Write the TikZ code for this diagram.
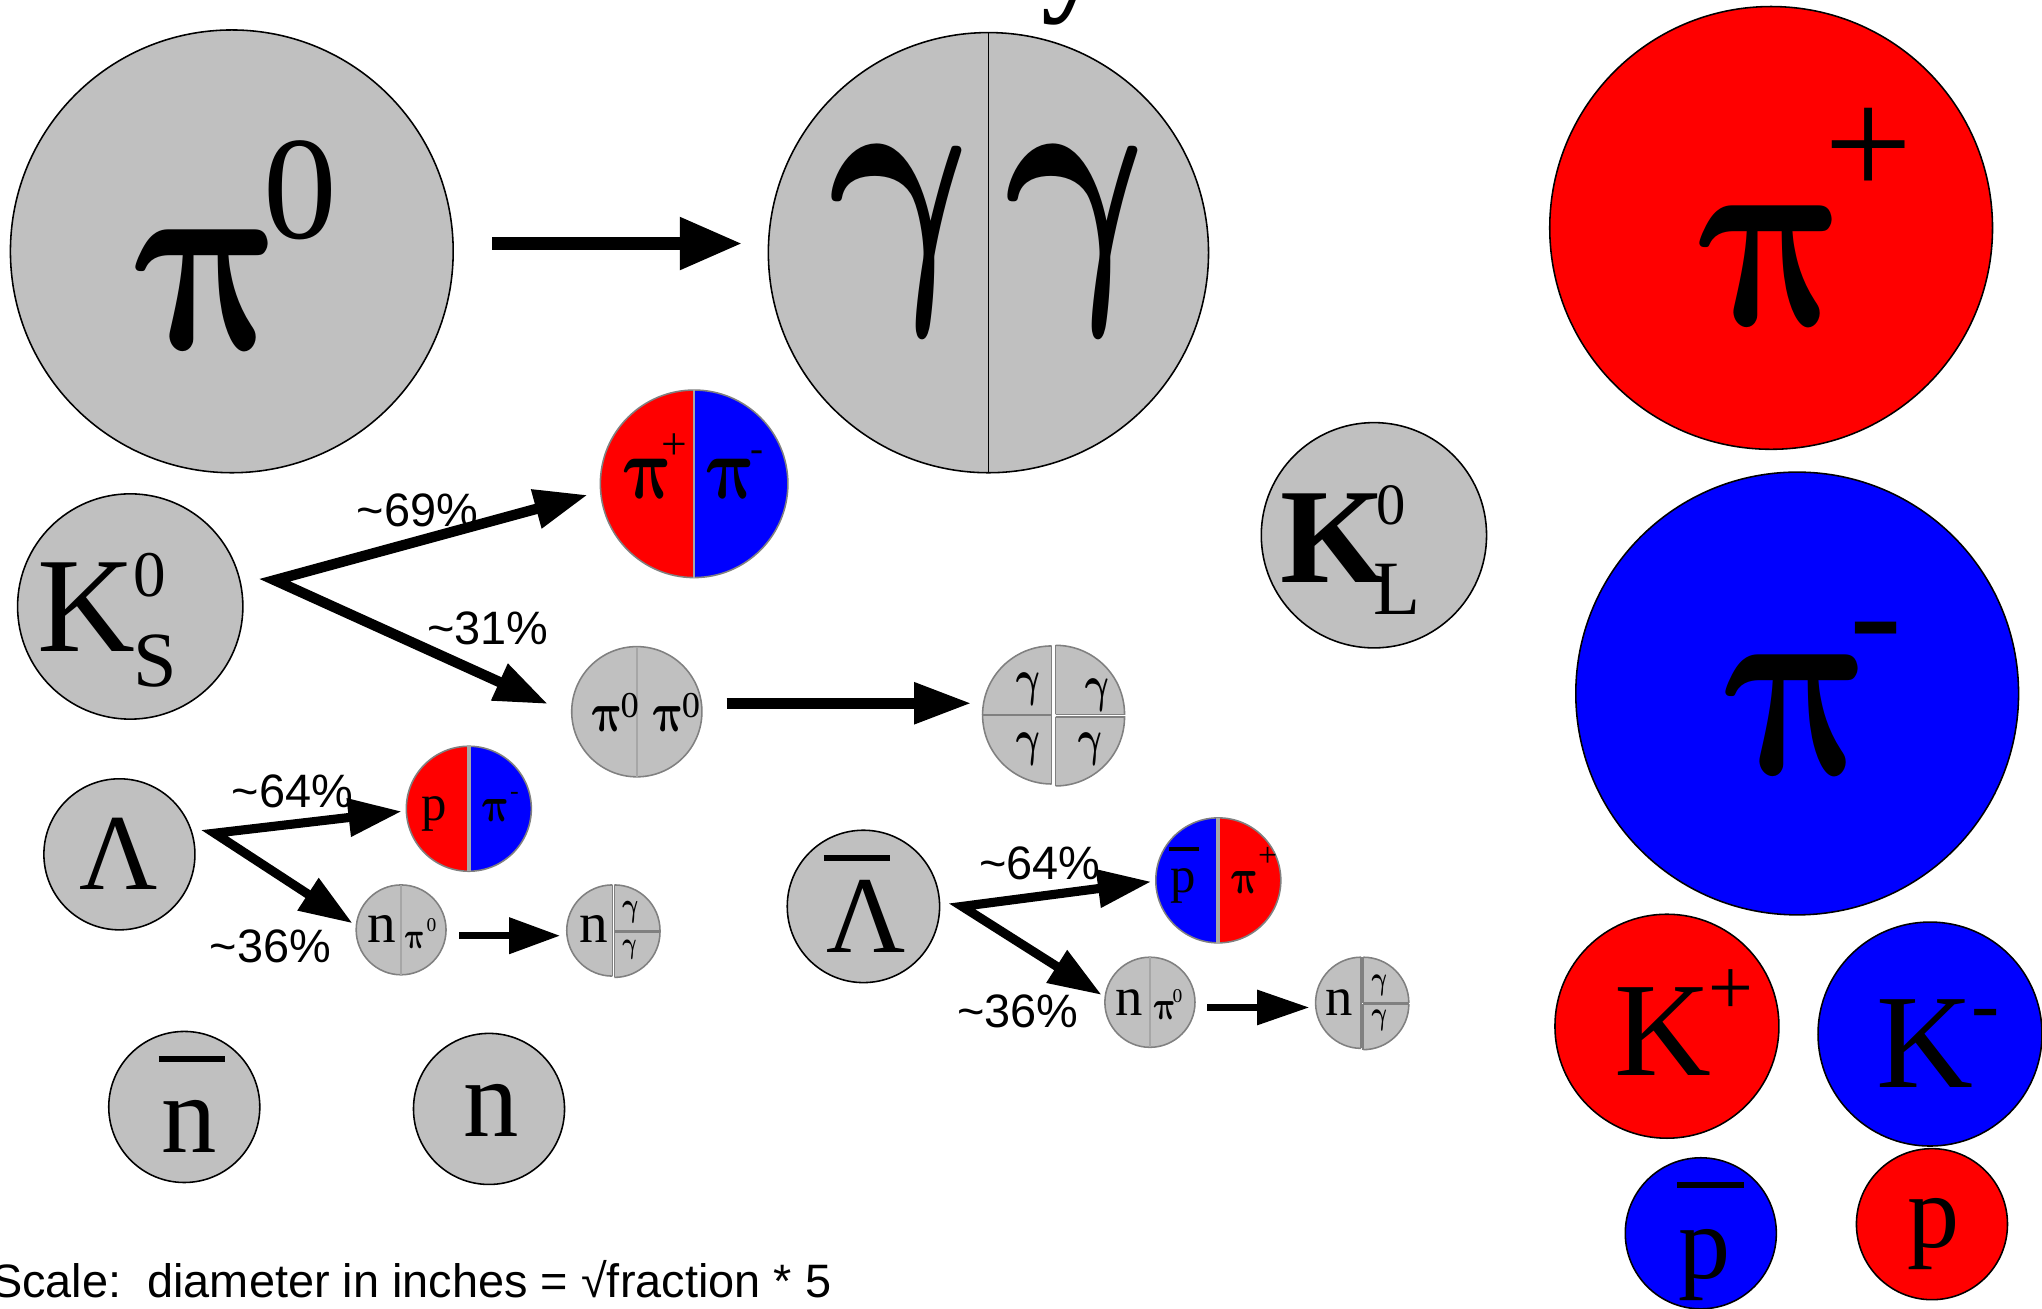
\documentclass[tikz,border=0pt]{standalone}
\usepackage{amsmath}
\usepackage{fontspec}
\setmainfont{Liberation Serif}
\newfontfamily\arial{Liberation Sans}
\usetikzlibrary{arrows.meta,calc}
\definecolor{pgray}{HTML}{C0C0C0}
\definecolor{pred}{HTML}{FF0000}
\definecolor{pblue}{HTML}{0000FF}
\definecolor{rimgray}{HTML}{808080}
\newcommand\fsz[1]{\fontsize{#1}{#1}\selectfont}
% upright Greek glyph from the bold math italic font: size, x aspect, y aspect, slant, glyph
\newcommand\sglyph[5]{\tikz[baseline=0pt]\node[inner sep=0pt,outer sep=0pt,anchor=base west,
  font=\fontsize{20.74}{20.74}\selectfont, xscale={#1/20.74*#2}, yscale={#1/20.74*#3},
  xslant=#4, transform shape]{#5};}
\newcommand\PI[1]{\sglyph{#1}{0.8}{1}{-0.25}{$\boldsymbol{\pi}$}}
\newcommand\GAM[1]{\sglyph{#1}{0.75}{1}{-0.12}{$\boldsymbol{\gamma}$}}
% split circle: name, center, radius, left colour, right colour, divider width
\newcommand\splitcirc[6]{%
  \node[circle, inner sep=0pt, outer sep=0pt, minimum size=2*#3] (#1) at #2 {};
  \begin{scope}
    \clip (#1.center) circle[radius=#3];
    \fill[#4] (#1.center) ++(-#3-2,-#3-2) rectangle ++(#3+2,2*#3+4);
    \fill[#5] (#1.center) ++(0,-#3-2) rectangle ++(#3+2,2*#3+4);
  \end{scope}
  \draw[rim] (#1.center) circle[radius=#3];
  \draw[rimgray!70, line width=#6] (#1.north) -- (#1.south);
}
% quarter piece: centre, sx, sy, radius
\newcommand\gquad[4]{%
  \begin{scope}
    \clip #1 rectangle ++(#2*#4+#2*3,#3*#4+#3*3);
    \filldraw[fill=pgray, rim] #1 circle[radius=#4];
  \end{scope}
  \draw[rim] #1 -- ++(#2*#4,0) #1 -- ++(0,#3*#4);
}
% left half piece: centre, radius
\newcommand\ghalfL[2]{%
  \begin{scope}
    \clip #1 ++(-#2-3,-#2-3) rectangle ++(#2+3,2*#2+6);
    \filldraw[fill=pgray, rim] #1 circle[radius=#2];
  \end{scope}
  \draw[rim] #1 ++(0,-#2) -- ++(0,2*#2);
}
\begin{document}
\begin{tikzpicture}[x=1pt,y=-1pt,
  ball/.style={circle, draw=black, line width=1.2pt, inner sep=0pt, outer sep=0pt, minimum size=#1},
  rim/.style={draw=rimgray, line width=1.2pt},
  sz/.style={anchor=base west, inner sep=0pt, outer sep=0pt, font=\fsz{#1}},
  bsz/.style={anchor=base west, inner sep=0pt, outer sep=0pt, font=\fsz{#1}\bfseries},
  gl/.style={anchor=base west, inner sep=0pt, outer sep=0pt},
  pct/.style={anchor=base west, inner sep=0pt, outer sep=0pt, font=\arial\fsz{36}},
  bar/.style={line width=#1},
  fat/.style={line width=#1, line join=miter},
]
\useasboundingbox (0,0) rectangle (1568,1005);

% title fragment
\node[bsz=95] (ttl) at (800,-1) {y};

% ---------- big circles ----------
\node[ball=340, fill=pgray] (pizero) at (178,193) {};
\node[ball=338, fill=pgray] (gg) at (759,194) {};
\draw[line width=1.2pt] (gg.north) -- (gg.south);
\node[ball=340, fill=pred] (piplus) at (1360,175) {};
\node[ball=340, fill=pblue] (piminus) at (1380,532.5) {};
\node[ball=173, fill=pgray] (kl) at (1055,411) {};
\node[ball=173, fill=pgray] (ks) at (100,465.7) {};
\node[ball=172, fill=pred] (kp) at (1280,788) {};
\node[ball=172, fill=pblue] (km) at (1482,794) {};
\node[ball=116, fill=pblue] (pbar) at (1306,947) {};
\node[ball=116, fill=pred] (prot) at (1483.5,940) {};
\node[ball=116, fill=pgray] (nbar) at (141.5,850) {};
\node[ball=116, fill=pgray] (neut) at (375.5,851.5) {};
\node[ball=116, fill=pgray] (lam) at (91.7,656) {};
\node[ball=117, fill=pgray] (lbar) at (663,696) {};

% ---------- split circles ----------
\splitcirc{pipm}{(533,371.5)}{72}{pred}{pblue}{1.2pt}
\splitcirc{ppim}{(360,621)}{48}{pred}{pblue}{3pt}
\splitcirc{pbpip}{(935.5,676)}{48}{pblue}{pred}{3pt}
\splitcirc{pizz}{(489,546.5)}{50}{pgray}{pgray}{1.2pt}
\splitcirc{npia}{(308,714)}{34.5}{pgray}{pgray}{1.2pt}
\splitcirc{npib}{(883,769.6)}{34.6}{pgray}{pgray}{1.2pt}

% four photons
\node[circle, inner sep=0pt, outer sep=0pt, minimum size=106] (g4) at (809,549) {};
\gquad{($(g4)+(-1.5,0)$)}{-1}{-1}{53}
\gquad{($(g4)+(-1.5,0)$)}{-1}{1}{53}
\gquad{($(g4)+(1.5,-0.5)$)}{1}{-1}{53}
\gquad{($(g4)+(1.5,1.5)$)}{1}{1}{53}

% n gamma gamma
\node[circle, inner sep=0pt, outer sep=0pt, minimum size=70] (nga) at (471,714.5) {};
\ghalfL{($(nga)+(-0.8,0)$)}{35}
\gquad{($(nga)+(0.8,0)$)}{1}{-1}{35}
\gquad{($(nga)+(0.8,1)$)}{1}{1}{35}
\node[circle, inner sep=0pt, outer sep=0pt, minimum size=70] (ngb) at (1046,770) {};
\ghalfL{($(ngb)+(-0.8,0)$)}{35}
\gquad{($(ngb)+(0.8,0)$)}{1}{-1}{35}
\gquad{($(ngb)+(0.8,1)$)}{1}{1}{35}

% ---------- arrows ----------
\draw[fat=10pt, -{Triangle[length=48pt,width=38pt]}, shorten <=30pt, shorten >=20pt]
  ([yshift=6pt]pizero.east) -- ([yshift=7pt]gg.west);
\draw[fat=8.5pt, -{Triangle[length=44pt,width=30pt]}, shorten <=19pt, shorten >=10pt]
  ([yshift=6.5pt]pizz.east) -- ([yshift=9pt]g4.west);
\draw[fat=5pt, -{Triangle[length=39pt,width=27pt]}, shorten <=10pt, shorten >=6pt]
  ([yshift=-4.5pt]npia.east) -- ([yshift=-4pt]nga.west);
\draw[fat=5pt, -{Triangle[length=40pt,width=26pt]}, shorten <=9.4pt, shorten >=5.7pt]
  ([yshift=-4pt]npib.east) -- ([yshift=-3.6pt]ngb.west);

\coordinate (ksv) at (211,445.5);
\coordinate (ksa) at (451.3,380);
\coordinate (ksb) at (420.8,540.6);
\draw[fat=8pt, {Triangle[length=41pt,width=29pt]}-{Triangle[length=41pt,width=29pt]}]
  (ksa) -- (ksv) -- (ksb);
\coordinate (lmv) at (164.8,639.8);
\coordinate (lma) at (308.5,623);
\coordinate (lmb) at (270.8,709);
\draw[fat=7pt, {Triangle[length=41pt,width=28pt]}-{Triangle[length=41pt,width=28pt]}]
  (lma) -- (lmv) -- (lmb);
\coordinate (lbv) at (738.8,696);
\coordinate (lba) at (884,677);
\coordinate (lbb) at (846,764);
\draw[fat=7pt, {Triangle[length=41pt,width=28pt]}-{Triangle[length=41pt,width=28pt]}]
  (lba) -- (lbv) -- (lbb);

% ---------- labels in circles ----------
\node[gl] (tpi0) at (93,268.5) {\PI{207}};
\node[sz=113] (tpi0s) at (202,183.5) {0};
\node[gl] (tg1) at (633,213) {\GAM{227}};
\node[gl] (tg2) at (768,213) {\GAM{227}};
\node[gl] (tpip) at (1294,250) {\PI{207}};
\node[sz=120] (tpips) at (1401,151) {+};
\node[gl] (tpim) at (1314,595) {\PI{207}};
\node[sz=122] (tpims) at (1420,511) {-};

\node[bsz=104] (tkl) at (983,447) {K};
\node[sz=45] (tkl0) at (1057,403) {0};
\node[sz=59] (tklL) at (1055,472) {L};
\node[sz=104] (tks) at (29,500.6) {K};
\node[sz=50] (tks0) at (102.5,458) {0};
\node[sz=60] (tksS) at (102.5,527.5) {S};
\node[sz=103] (tkp) at (1240,826) {K};
\node[sz=61] (tkps) at (1312,779) {+};
\node[sz=103] (tkm) at (1441,835) {K};
\node[sz=65] (tkms) at (1513.5,792.7) {-};
\node[sz=80] (tpb) at (1288.5,982) {p};
\draw[bar=4.6pt] (1288,910) -- (1339,910);
\node[sz=80] (tp) at (1464.5,958) {p};
\node[sz=85] (tnb) at (124,885) {n};
\draw[bar=4.6pt] (122,813) -- (173,813);
\node[sz=85] (tn) at (356,873) {n};
\node[sz=83] (tlam) at (61,683) {Λ};
\node[sz=84] (tlb) at (635,731.5) {Λ};
\draw[bar=4.4pt] (632.7,658.6) -- (683.4,658.6);

\node[gl] (tpp1) at (476,382.6) {\PI{68}};
\node[sz=35] (tpp2) at (508,353) {+};
\node[gl] (tpp3) at (539.5,382.6) {\PI{68}};
\node[sz=30] (tpp4) at (576,354) {-};

\node[sz=39] (tppa) at (323.5,630) {p};
\node[gl] (tppb) at (368.5,631) {\PI{38}};
\node[sz=20] (tppc) at (391.7,614) {-};

\node[sz=39] (tpba) at (898.5,685) {p};
\draw[bar=2.5pt] (898,652) -- (921,652);
\node[gl] (tpbb) at (943.5,686) {\PI{38}};
\node[sz=26] (tpbc) at (966,665) {+};

\node[gl] (tzz1) at (452.5,562) {\PI{43}};
\node[sz=28] (tzz2) at (476.5,551) {0};
\node[gl] (tzz3) at (499.7,562) {\PI{43}};
\node[sz=28] (tzz4) at (523.5,551) {0};

\node[gl] (tq1) at (780,534) {\GAM{39}};
\node[gl] (tq2) at (833,539) {\GAM{39}};
\node[gl] (tq3) at (780,580) {\GAM{39}};
\node[gl] (tq4) at (827,580) {\GAM{39}};

\node[sz=44] (tna1) at (282,724) {n};
\node[gl] (tna2) at (309.5,728) {\PI{28}};
\node[sz=15] (tna3) at (327.5,715.4) {0};
\node[sz=44] (tga1) at (445,724) {n};
\node[gl] (tga2) at (477.5,704) {\GAM{26}};
\node[gl] (tga3) at (477.5,732) {\GAM{23}};

\node[sz=42] (tnb1) at (856.5,779.5) {n};
\node[gl] (tnb2) at (884.5,783) {\PI{31}};
\node[sz=15] (tnb3) at (900.5,770) {0};
\node[sz=42] (tgb1) at (1018,779.5) {n};
\node[gl] (tgb2) at (1052.8,760) {\GAM{25}};
\node[gl] (tgb3) at (1052.8,787) {\GAM{25}};

% ---------- percentages ----------
\node[pct] (p69) at (274,404) {\textasciitilde 69\%};
\node[pct] (p31) at (328,495) {\textasciitilde 31\%};
\node[pct] (p64a) at (178,620) {\textasciitilde 64\%};
\node[pct] (p36a) at (161,739) {\textasciitilde 36\%};
\node[pct] (p64b) at (752,675) {\textasciitilde 64\%};
\node[pct] (p36b) at (735,789) {\textasciitilde 36\%};

% ---------- scale note ----------
\node[anchor=base west, inner sep=0pt, font=\arial\fsz{36}] (scale) at (-7,996)
  {Scale:\ \ diameter in inches = √fraction * 5};
\end{tikzpicture}
\end{document}
